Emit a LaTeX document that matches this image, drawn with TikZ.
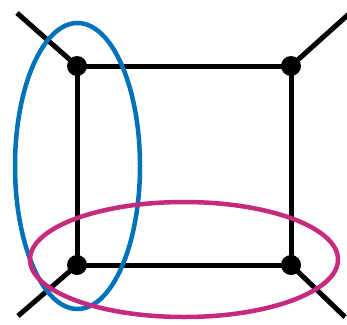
\documentclass[tikz,border=0pt]{standalone}
\usepackage{tikz}
\usetikzlibrary{positioning}
\definecolor{loopblue}{RGB}{0,114,186}
\definecolor{loopmagenta}{RGB}{198,42,126}
\tikzset{
    vertex/.style={circle, fill=black, inner sep=0pt, minimum size=20pt},
    prop/.style={draw=black, line width=5pt},
    blueloop/.style={draw=loopblue, line width=4.5pt},
    magentaloop/.style={draw=loopmagenta, line width=4.5pt}
}
\begin{document}
\begin{tikzpicture}[x=1pt, y=-1pt]
    \useasboundingbox (0,0) rectangle (347,324);

    % Vertices of the box
    \node [vertex] (tl) at (77,66) {};
    \node [vertex] (tr) at (291,66) {};
    \node [vertex] (bl) at (77,265) {};
    \node [vertex] (br) at (291,265) {};

    % External legs
    \coordinate (ltl) at (17,13);
    \coordinate (ltr) at (350,13);
    \coordinate (lbl) at (18,316);
    \coordinate (lbr) at (345,317);

    % Box and legs
    \draw [prop] (tl.center) -- (tr.center) -- (br.center) -- (bl.center) -- cycle;
    \draw [prop] (ltl) -- (tl.center);
    \draw [prop] (ltr) -- (tr.center);
    \draw [prop] (lbl) -- (bl.center);
    \draw [prop] (lbr) -- (br.center);

    % Loops
    \draw [blueloop] (77.5,166) ellipse [x radius=62.5pt, y radius=143pt];
    \draw [magentaloop] (184,259.5) ellipse [x radius=154pt, y radius=57.5pt];
\end{tikzpicture}
\end{document}
